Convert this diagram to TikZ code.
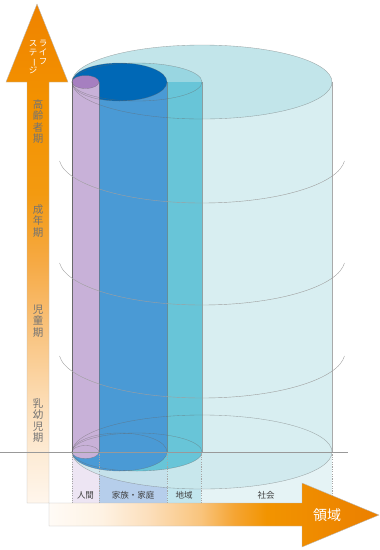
\documentclass[tikz,border=0pt]{standalone}
\usepackage{fontspec}
\newfontfamily\jpfont{Noto Sans CJK JP}
\usetikzlibrary{positioning}

\definecolor{ningen}{HTML}{C8B1D8}
\definecolor{ningentop}{HTML}{A67FC0}
\definecolor{kazoku}{HTML}{4A9AD5}
\definecolor{kazokutop}{HTML}{0068B6}
\definecolor{chiiki}{HTML}{68C5D8}
\definecolor{shakai}{HTML}{CBE8EC}
\definecolor{shakaitop}{HTML}{C2E5EA}
\definecolor{ningencell}{HTML}{EDE5F3}
\definecolor{kazokucell}{HTML}{B6CEEB}
\definecolor{chiikicell}{HTML}{C2E6EE}
\definecolor{shakaicell}{HTML}{E5F3F5}
\definecolor{stA}{HTML}{FFF6EC}
\definecolor{stB}{HTML}{FDEBD5}
\definecolor{stC}{HTML}{FCDDB6}
\definecolor{stD}{HTML}{F9C480}
\definecolor{stE}{HTML}{F6AA45}
\definecolor{stF}{HTML}{F39A10}
\definecolor{stG}{HTML}{F39200}
\definecolor{stH}{HTML}{EF8300}
\definecolor{dmA}{HTML}{FFFBF6}
\definecolor{dmB}{HTML}{FEF2E3}
\definecolor{dmC}{HTML}{FCDFBC}
\definecolor{dmD}{HTML}{F9C47C}
\definecolor{dmE}{HTML}{F5A534}
\definecolor{dmF}{HTML}{F29400}
\definecolor{dmG}{HTML}{EB7F00}

\pgfdeclareverticalshading{stageshade}{100bp}{color(0bp)=(stA); color(25bp)=(stA);
  color(30bp)=(stB); color(35bp)=(stC); color(42bp)=(stD); color(49bp)=(stE);
  color(56bp)=(stF); color(65bp)=(stG); color(75bp)=(stH); color(100bp)=(stH)}
\pgfdeclarehorizontalshading{domainshade}{100bp}{color(0bp)=(dmA); color(25bp)=(dmA);
  color(33bp)=(dmB); color(40bp)=(dmC); color(48bp)=(dmD); color(53bp)=(dmE);
  color(58bp)=(dmF); color(75bp)=(dmG); color(100bp)=(dmG)}

\tikzset{
  stagelbl/.style={font=\jpfont\fontsize{10.5}{11.6}\selectfont, text=black!55,
                   align=center, inner sep=0pt},
  lifelbl/.style={font=\jpfont\fontsize{8.5}{9.2}\selectfont, text=white,
                  align=center, inner sep=0pt, anchor=north},
  fieldlbl/.style={font=\jpfont\fontsize{8.5}{9}\selectfont, text=black!75, inner sep=0pt},
  cellbox/.style={draw=none},
  colsep/.style={gray!70, line width=0.3pt, dash pattern=on 1.2pt off 1.2pt},
  cylline/.style={draw=black!60, line width=0.35pt, draw opacity=0.55},
  ringline/.style={draw=gray!75, line width=0.4pt},
  baseline/.style={draw=gray!80, line width=0.4pt},
  arrowedge/.style={draw=gray!55, line width=0.35pt},
}

\begin{document}
\begin{tikzpicture}[x=1pt, y=-1pt]
\useasboundingbox (0,0) rectangle (380,550);

% cells under the cylinders
\fill[ningencell] (72,452) rectangle (99,503);
\fill[kazokucell] (99,452) rectangle (167,503);
\fill[chiikicell] (167,452) rectangle (201,503);
\fill[shakaicell] (201,452) rectangle (332,503);

% cylinders, outer to inner
\foreach \cx/\rx/\ry/\bcol/\bop/\tcol/\top in {202/130/37/shakai/0.75/shakaitop/1,
    137/65/19/chiiki/1/chiiki/0.45, 119.5/47.5/19/kazoku/1/kazokutop/1,
    85.5/13.5/6.5/ningen/1/ningentop/1} {
  \fill[\bcol, fill opacity=\bop] (\cx-\rx,82) -- (\cx-\rx,452)
    arc[start angle=180, end angle=0, x radius=\rx, y radius=\ry] -- (\cx+\rx,82) -- cycle;
  \fill[\tcol, fill opacity=\top] (\cx,82) ellipse[x radius=\rx, y radius=\ry];
}
\foreach \cx/\rx/\ry in {202/130/37, 137/65/19, 119.5/47.5/19, 85.5/13.5/6.5} {
  \draw[cylline] (\cx-\rx,82) -- (\cx-\rx,452) (\cx+\rx,82) -- (\cx+\rx,452);
  \draw[cylline] (\cx,82) ellipse[x radius=\rx, y radius=\ry]
                 (\cx,452) ellipse[x radius=\rx, y radius=\ry];
}

% life stage rings
\foreach \cy in {157,259,352}
  \draw[ringline] ([shift={(175:143 and 46)}]202,\cy)
    arc[start angle=175, end angle=5, x radius=143, y radius=46];

\foreach \sx in {72,99,167,201,332}
  \draw[colsep] (\sx,452) -- (\sx,503);

\node[fieldlbl] (ningen) at (85.5,495) {人間};
\node[fieldlbl] (kazoku) at (133,495) {家族・家庭};
\node[fieldlbl] (chiiki) at (184,495) {地域};
\node[fieldlbl] (shakai) at (266,495) {社会};

% arrows
\draw[arrowedge, shading=stageshade] (27,503) -- (27,82) -- (6,82) -- (37,4)
  -- (68,82) -- (49,82) -- (49,503) -- cycle;
\draw[arrowedge, shading=domainshade] (49,503) -- (302,503) -- (302,483) -- (379,515)
  -- (302,547) -- (302,526) -- (49,526) -- cycle;

\draw[baseline] (0,452) -- (348,452);

\node[lifelbl] (life) at (43,40) {ラ\\イ\\フ};
\node[lifelbl] (stage) at (33,40) {ス\\テ\\\rotatebox[origin=c]{-90}{ー}\\ジ};

\node[stagelbl] (koureisha) at (38,121.5) {高\\齢\\者\\期};
\node[stagelbl] (seinen) at (38,221) {成\\年\\期};
\node[stagelbl] (jidou) at (38,321) {児\\童\\期};
\node[stagelbl] (nyuuyouji) at (38,420.5) {乳\\幼\\児\\期};

\node[font=\jpfont\fontsize{14}{14}\selectfont, text=white, inner sep=0pt]
  (ryouiki) at (327,515) {領域};
\end{tikzpicture}
\end{document}
